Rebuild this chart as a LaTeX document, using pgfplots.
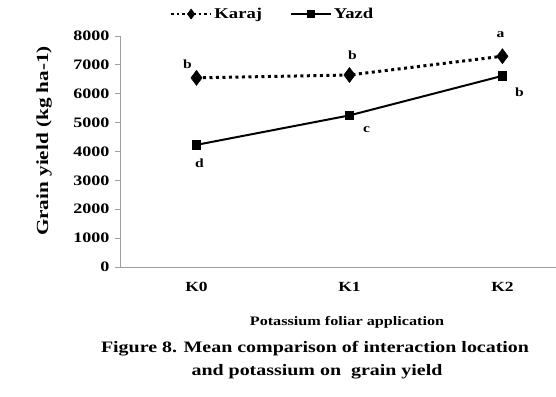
\documentclass[border=0pt]{standalone}
\usepackage{pgfplots}
\pgfplotsset{compat=1.18}
\usepackage{fontspec}
\setmainfont{Liberation Serif}[FakeStretch=1.25]
\begin{document}
\begin{tikzpicture}
\useasboundingbox (0,0) rectangle (556bp,397bp);
\begin{axis}[
  at={(120bp,130bp)}, anchor=south west,
  scale only axis, width=436bp, height=231bp,
  xmin=-0.5, xmax=2.35, ymin=0, ymax=8000,
  axis x line*=bottom, axis y line*=left,
  axis line style={gray!75, line width=0.8pt},
  ytick={0,1000,2000,3000,4000,5000,6000,7000,8000},
  yticklabels={0,1000,2000,3000,4000,5000,6000,7000,8000},
  xtick={0,1,2}, xticklabels={K0,K1,K2},
  extra x ticks={-0.5,0.5,1.5}, extra x tick labels={},
  extra x tick style={major tick length=5bp, tick style={gray!75, line width=0.6pt}},
  x tick style={draw=none},
  y tick style={gray!75, line width=0.8pt},
  major tick length=5bp,
  tick align=outside,
  tick label style={font=\fontsize{14.5}{16}\selectfont\bfseries},
  xticklabel style={font=\fontsize{14}{16}\selectfont\bfseries, yshift=-7bp},
  yticklabel style={xshift=-2bp},
  clip=false,
  legend style={at={(0.35,1.095)}, anchor=center, draw=none, fill=none,
    legend columns=2, font=\fontsize{15}{17}\selectfont\bfseries,
    /tikz/every even column/.append style={column sep=26bp}},
  legend image code/.code={\draw[#1] (0bp,0bp) -- (40bp,0bp); \draw[#1, solid] plot coordinates {(20bp,0bp)};},
]
\addplot[black, line width=3pt, dash pattern=on 3bp off 3.5bp, mark=diamond*, mark size=7.5bp, mark options={solid, line width=0.5pt}, forget plot]
  coordinates {(0,6550) (1,6650) (2,7300)};
\addplot[black, line width=2pt, mark=square*, mark size=4.2bp, mark options={solid, line width=0.5pt}, forget plot]
  coordinates {(0,4230) (1,5250) (2,6620)};
\addlegendimage{black, line width=2.5pt, dash pattern=on 2.5bp off 3bp, mark=diamond*, mark size=5bp, mark options={solid, line width=0.5pt}}
\addlegendentry{Karaj}
\addlegendimage{black, line width=1.8pt, mark=square*, mark size=3.5bp, mark options={solid, line width=0.5pt}}
\addlegendentry{Yazd}
\tikzset{lab/.style={font=\fontsize{12.5}{14}\selectfont\bfseries}}
\node[lab] at ([xshift=-9bp,yshift=14bp]axis cs:0,6550) {b};
\node[lab] at ([xshift=3bp,yshift=20bp]axis cs:1,6650) {b};
\node[lab] at ([xshift=-2bp,yshift=22bp]axis cs:2,7300) {a};
\node[lab] at ([xshift=3bp,yshift=-18bp]axis cs:0,4230) {d};
\node[lab] at ([xshift=17bp,yshift=-14bp]axis cs:1,5250) {c};
\node[lab] at ([xshift=17bp,yshift=-16bp]axis cs:2,6620) {b};
\end{axis}
\node[rotate=90, font=\fontsize{17}{19}\selectfont\bfseries] at (44bp,256bp) {Grain yield (kg ha-1)};
\node[font=\fontsize{13}{15}\selectfont\bfseries] at (347bp,75bp) {Potassium foliar application};
\node[font=\fontsize{16}{18}\selectfont\bfseries] at (315bp,48bp) {Figure 8. Mean comparison of interaction location};
\node[font=\fontsize{16}{18}\selectfont\bfseries] at (317bp,25bp) {and potassium on\ \ grain yield};
\end{tikzpicture}
\end{document}
